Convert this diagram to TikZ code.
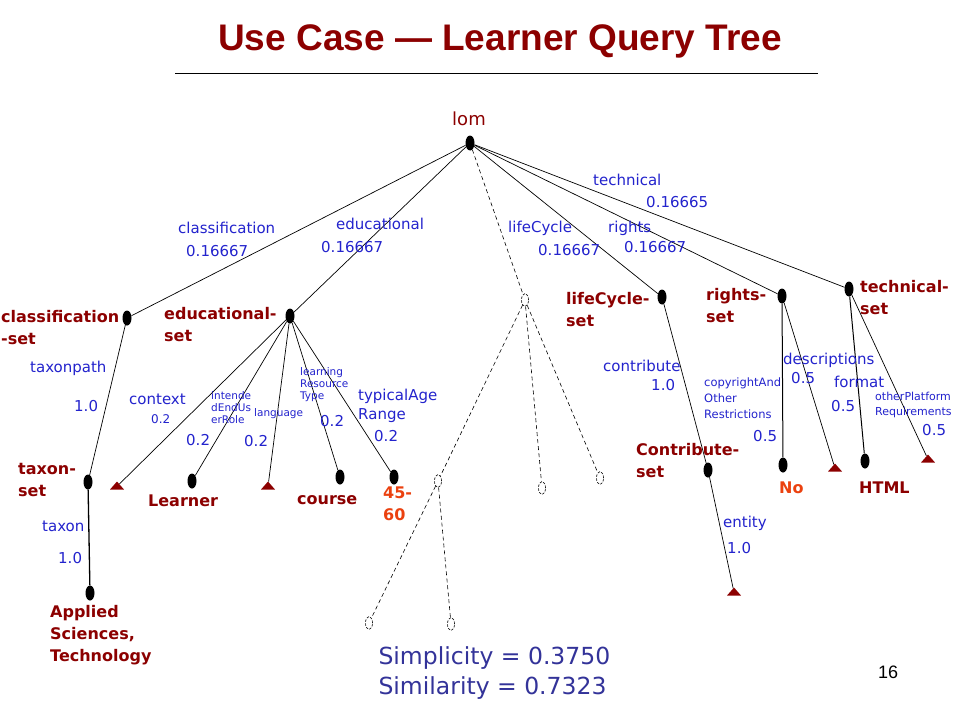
\documentclass[tikz,border=0pt]{standalone}
\usepackage{fontspec}
\setmainfont{DejaVu Sans}
\newfontfamily\titlefont{Liberation Sans}
\usepackage{tikz}
\usetikzlibrary{shapes.geometric}
\definecolor{lomred}{RGB}{140,0,0}
\definecolor{valorange}{RGB}{235,65,15}
\definecolor{wtblue}{RGB}{35,35,205}
\definecolor{simblue}{RGB}{51,51,153}
\tikzset{
dot/.style={ellipse, fill=black, inner sep=0pt, minimum width=9pt, minimum height=15pt}, % matched element
hole/.style={ellipse, draw, line width=0.6pt, dash pattern=on 2.5pt off 1.5pt, inner sep=0pt, minimum width=7pt, minimum height=13pt}, % element of the query only
leaf/.style={isosceles triangle, shape border rotate=90, isosceles triangle stretches, fill=lomred, inner sep=0pt, minimum width=14pt, minimum height=8pt, anchor=apex}, % missing leaf
lbl/.style={text=lomred, font=\bfseries\fontsize{16}{22}\selectfont, align=left, anchor=west, inner sep=0pt}, % element names
vlbl/.style={lbl, text=valorange}, % values
wt/.style={text=wtblue, font=\fontsize{15}{19}\selectfont, align=left, anchor=west, inner sep=0pt}, % arc labels and weights
wtsmall/.style={wt, font=\fontsize{10.5}{12}\selectfont},
link/.style={line width=0.7pt},
dlink/.style={line width=0.6pt, dash pattern=on 4pt off 3pt},
}
\begin{document}
\begin{tikzpicture}[x=1pt, y=-1pt]
	\path[fill=white, use as bounding box] (0,0) rectangle (960,720);
	% title
	\node[font=\titlefont\bfseries\fontsize{37}{40}\selectfont, text=lomred, anchor=base] (title) at (500,50) {Use Case — Learner Query Tree};
	\draw[line width=0.8pt] (175,73) -- (818,73);
	% tree
	\node[dot] (lom) at (470,143) {};
	\node[dot] (cls) at (127,318) {};
	\node[dot] (edu) at (290,316) {};
	\node[hole] (mid) at (525,300) {};
	\node[dot] (lif) at (662,297) {};
	\node[dot] (rig) at (782,296) {};
	\node[dot] (tec) at (849,289) {};
	\node[dot] (txs) at (88,482) {};
	\node[dot] (app) at (90,593) {};
	\node[leaf] (ctx) at (117,481) {};
	\node[dot] (lrn) at (192,481) {};
	\node[leaf] (lng) at (268,481) {};
	\node[dot] (crs) at (340,477) {};
	\node[dot] (age) at (394,477) {};
	\node[hole] (m1) at (438,481) {};
	\node[hole] (m2) at (542,488) {};
	\node[hole] (m3) at (600,478) {};
	\node[hole] (m4) at (369,623) {};
	\node[hole] (m5) at (451,624) {};
	\node[dot] (con) at (708,470) {};
	\node[leaf] (ent) at (734,587) {};
	\node[dot] (cpy) at (783,465) {};
	\node[leaf] (dsc) at (835,463) {};
	\node[dot] (fmt) at (865,461) {};
	\node[leaf] (opr) at (928,454) {};
	\draw[link] (lom) edge (cls) (lom) edge (edu) (lom) edge (lif) (lom) edge (rig) (lom) edge (tec)
		(cls) edge (txs) (txs) edge[line width=1.3pt] (app)
		(edu) edge (ctx) (edu) edge (lrn) (edu) edge (lng) (edu) edge (crs) (edu) edge (age)
		(lif) edge (con) (con) edge (ent)
		(rig) edge[line width=1pt] (cpy) (rig) edge (dsc)
		(tec) edge[line width=1pt] (fmt) (tec) edge (opr);
	\draw[dlink] (lom) edge (mid) (mid) edge (m1) (mid) edge (m2) (mid) edge (m3)
		(m1) edge (m4) (m1) edge (m5);
	% element names
	\node[text=lomred, font=\fontsize{18}{22}\selectfont] (lomname) at (469,119) {lom};
	\node[lbl] (clsname) at (1,328) {classification\\-set};
	\node[lbl] (eduname) at (164,325) {educational-\\set};
	\node[lbl] (lifname) at (566,310) {lifeCycle-\\set};
	\node[lbl] (rigname) at (706,306) {rights-\\set};
	\node[lbl] (tecname) at (860,298) {technical-\\set};
	\node[lbl] (txsname) at (18,480) {taxon-\\set};
	\node[lbl] (appname) at (50,635) {Applied\\Sciences,\\Technology};
	\node[lbl] (lrnname) at (148,501) {Learner};
	\node[lbl] (crsname) at (297,500) {course};
	\node[vlbl] (agename) at (383,504) {45-\\60};
	\node[lbl] (conname) at (636,461) {Contribute-\\set};
	\node[vlbl] (cpyname) at (779,488) {No};
	\node[lbl] (fmtname) at (859,488) {HTML};
	% arc labels and weights
	\node[wt] (w1) at (178,228) {classification};
	\node[wt] (w1v) at (186,251) {0.16667};
	\node[wt] (w2) at (336,224) {educational};
	\node[wt] (w2v) at (321,247) {0.16667};
	\node[wt] (w3) at (508,228) {lifeCycle};
	\node[wt] (w3v) at (538,250) {0.16667};
	\node[wt] (w4) at (608,228) {rights};
	\node[wt] (w4v) at (624,247) {0.16667};
	\node[wt] (w5) at (593,180) {technical};
	\node[wt] (w5v) at (646,202) {0.16665};
	\node[wt] (w6) at (30,368) {taxonpath};
	\node[wt] (w6v) at (74,406) {1.0};
	\node[wt] (w7) at (42,526) {taxon};
	\node[wt] (w7v) at (58,558) {1.0};
	\node[wt] (w8) at (129,399) {context};
	\node[wt, font=\fontsize{12}{14}\selectfont] (w8v) at (151,419) {0.2};
	\node[wtsmall] (w9) at (211,408) {intende\\dEndUs\\erRole};
	\node[wt] (w9v) at (186,440) {0.2};
	\node[wtsmall] (w10) at (254,414) {language};
	\node[wt] (w10v) at (244,441) {0.2};
	\node[wtsmall] (w11) at (300,385) {learning\\Resource\\Type};
	\node[wt] (w11v) at (320,421) {0.2};
	\node[wt] (w12) at (358,406) {typicalAge\\Range};
	\node[wt] (w12v) at (374,436) {0.2};
	\node[wt] (w13) at (603,366) {contribute};
	\node[wt] (w13v) at (651,385) {1.0};
	\node[wt] (w14) at (723,523) {entity};
	\node[wt] (w14v) at (727,548) {1.0};
	\node[wtsmall, font=\fontsize{11.5}{16}\selectfont] (w15) at (704,398) {copyrightAnd\\Other\\Restrictions};
	\node[wt] (w15v) at (753,436) {0.5};
	\node[wt] (w16) at (783,360) {descriptions};
	\node[wt] (w16v) at (791,378) {0.5};
	\node[wt] (w17) at (834,382) {format};
	\node[wt] (w17v) at (831,406) {0.5};
	\node[wtsmall, font=\fontsize{11}{15}\selectfont] (w18) at (875,405) {otherPlatform\\Requirements};
	\node[wt] (w18v) at (922,430) {0.5};
	% result
	\node[anchor=west, text=simblue, font=\fontsize{23.5}{30}\selectfont, align=left] (sim) at (375,673) {Simplicity = 0.3750\\Similarity = 0.7323};
	\node[font=\titlefont\fontsize{18}{20}\selectfont] (page) at (888,672) {16};
\end{tikzpicture}
\end{document}
